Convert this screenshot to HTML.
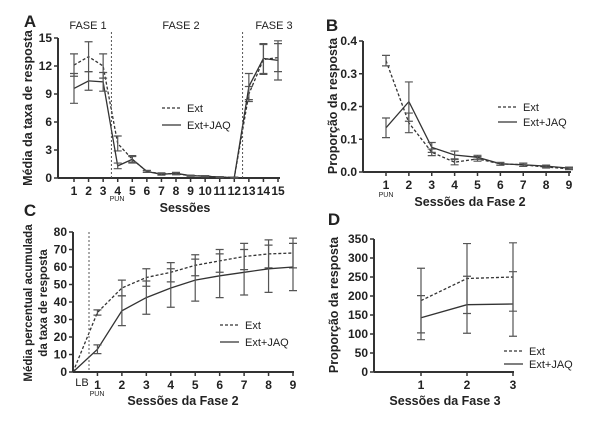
<!DOCTYPE html>
<html><head><meta charset="utf-8"><style>
body{margin:0;background:#fff;}
svg{display:block;font-family:"Liberation Sans",Arial,sans-serif;}
.tk{font-size:12px;font-weight:bold;fill:#222;}
.tt{font-size:12.5px;font-weight:bold;fill:#222;}
.lg{font-size:11px;fill:#222;}
</style></head><body>
<svg id="c" width="611" height="428" viewBox="0 0 611 428"></svg>
<script>
// Panel A data
const aCats=[1,2,3,4,5,6,7,8,9,10,11,12,13,14,15];
const aExt=[12.1,13.0,12.0,3.7,2.0,0.7,0.45,0.45,0.25,0.2,0.1,0.05,9.0,12.7,12.9];
const aExtErr=[1.2,1.6,1.3,0.8,0.4,0.1,0.1,0.1,0.05,0.05,0.05,0.05,0.8,1.6,1.5];
const aJaq=[9.6,10.4,10.3,1.3,2.0,0.7,0.4,0.5,0.25,0.2,0.1,0.05,9.8,12.8,12.6];
const aJaqErr=[1.6,1.0,1.0,0.3,0.3,0.1,0.1,0.1,0.05,0.05,0.05,0.05,1.4,1.6,2.1];
const aTicks=[0,3,6,9,12,15];
// Panel B data
const bCats=[1,2,3,4,5,6,7,8,9];
const bExt=[0.34,0.15,0.06,0.03,0.04,0.025,0.022,0.015,0.01];
const bExtErr=[0.016,0.03,0.01,0.008,0.007,0.004,0.005,0.003,0.003];
const bJaq=[0.135,0.215,0.075,0.052,0.045,0.025,0.022,0.018,0.012];
const bJaqErr=[0.03,0.06,0.015,0.012,0.006,0.004,0.005,0.003,0.003];
const bTicks=[0,0.1,0.2,0.3,0.4];
// Panel C data
const cCats=[0,1,2,3,4,5,6,7,8,9];
const cExt=[0,34,48,54,57,61,63.5,66,67.5,68];
const cExtErr=[0,1.5,4.5,5,5.5,6,6.5,7.5,8,8.5];
const cJaq=[0,13,35,42.5,48,52.5,55,57,59,60];
const cJaqErr=[0,2.5,8.5,9.5,11,12,12.5,13,13.5,13.5];
const cTicks=[0,10,20,30,40,50,60,70,80];
// Panel D data
const dCats=[1,2,3];
const dExt=[188,246,250];
const dExtErr=[85,92,90];
const dJaq=[143,177,179];
const dJaqErr=[58,75,85];
const dTicks=[0,50,100,150,200,250,300,350];

const svg=document.getElementById('c');
const NS='http://www.w3.org/2000/svg';
function mk(tag,at,parent){const e=document.createElementNS(NS,tag);for(const k in at)e.setAttribute(k,at[k]);(parent||svg).appendChild(e);return e;}
function txt(x,y,s,cls,anchor,parent){const t=mk('text',{x:x,y:y,class:cls,'text-anchor':anchor||'middle'},parent);t.textContent=s;return t;}

function panel(p){
  const g=mk('g',{});
  
  
  const X=v=>p.x0+(v-p.c0)*(p.x1-p.x0)/(p.c1-p.c0);
  const Y=v=>p.y0-(v-p.v0)*(p.y0-p.y1)/(p.v1-p.v0);
  const ya=mk('line',{x1:p.ax,y1:Y(p.v0),x2:p.ax,y2:Y(p.v1),stroke:'#333','stroke-width':2},g);
  
  const xa=mk('line',{x1:p.ax,y1:Y(p.v0),x2:p.xend,y2:Y(p.v0),stroke:'#333','stroke-width':2},g);
  
  p.ticks.forEach(t=>{
    mk('line',{x1:p.ax-4,y1:Y(t),x2:p.ax,y2:Y(t),stroke:'#333','stroke-width':1.5},g);
    const l=txt(p.ax-6,Y(t)+4,p.fmt(t),'tk','end',g);
    
  });
  p.cats.forEach((c,i)=>{
    if(p.skipLabel&&p.skipLabel(c))return;
    mk('line',{x1:X(c),y1:Y(p.v0),x2:X(c),y2:Y(p.v0)+4,stroke:'#333','stroke-width':1.5},g);
    const l=txt(X(c),Y(p.v0)+17,String(c),'tk','middle',g);
    
  });
  [[p.ext,p.extErr,'3,2','series-ext'],[p.jaq,p.jaqErr,null,'series-ext-jaq']].forEach(([vals,err,dash,nm])=>{
    const d=vals.map((v,i)=>(i?'L':'M')+X(p.cats[i]).toFixed(1)+','+Y(v).toFixed(1)).join(' ');
    const at={d:d,fill:'none',stroke:'#333','stroke-width':1.3};
    if(dash)at['stroke-dasharray']=dash;
    const path=mk('path',at,g);
    
    vals.forEach((v,i)=>{
      if(!err[i])return;
      const x=X(p.cats[i]),t=Y(v+err[i]),b=Y(v-err[i]);
      const eb=mk('path',{d:`M${x},${t}L${x},${b}M${x-4},${t}L${x+4},${t}M${x-4},${b}L${x+4},${b}`,stroke:'#555','stroke-width':1.2,fill:'none'},g);
      
    });
  });
  const lg=mk('g',{},g);
  
  mk('line',{x1:p.lx,y1:p.ly,x2:p.lx+19,y2:p.ly,stroke:'#333','stroke-width':1.3,'stroke-dasharray':'3,2'},lg);
  txt(p.lx+25,p.ly+4,'Ext','lg','start',lg);
  mk('line',{x1:p.lx,y1:p.ly+p.lgap,x2:p.lx+19,y2:p.ly+p.lgap,stroke:'#333','stroke-width':1.3},lg);
  txt(p.lx+25,p.ly+p.lgap+4,'Ext+JAQ','lg','start',lg);
  return {g,X,Y};
}
const f0=t=>String(t), f1=t=>t.toFixed(1);

let A=panel({name:'panel-a',cats:aCats,ext:aExt,extErr:aExtErr,jaq:aJaq,jaqErr:aJaqErr,ticks:aTicks,fmt:f0,
  x0:74,x1:278,c0:1,c1:15,y0:178,y1:38,v0:0,v1:15,ax:58,xend:280,lx:162,ly:108,lgap:17});
[3.5,12.5].forEach(v=>{const l=mk('line',{x1:A.X(v)+1,y1:32,x2:A.X(v)+1,y2:178,stroke:'#555','stroke-width':1,'stroke-dasharray':'2,2'},A.g);});
txt(88,29,'FASE 1','lg','middle',A.g);txt(181,29,'FASE 2','lg','middle',A.g);txt(274,29,'FASE 3','lg','middle',A.g);
txt(117,201,'PUN','lg','middle',A.g).setAttribute('style','font-size:7px');
txt(30,27,'A','tt','middle',A.g).setAttribute('style','font-size:17px');
txt(185,212,'Sessões','tt','middle',A.g);
let ta=txt(0,0,'Média da taxa de resposta','tt','middle',A.g);ta.setAttribute('transform','translate(32,108) rotate(-90)');

let B=panel({name:'panel-b',cats:bCats,ext:bExt,extErr:bExtErr,jaq:bJaq,jaqErr:bJaqErr,ticks:bTicks,fmt:f1,
  x0:386,x1:569,c0:1,c1:9,y0:172,y1:41,v0:0,v1:0.4,ax:363,xend:571,lx:498,ly:107,lgap:15});
txt(386,197,'PUN','lg','middle',B.g).setAttribute('style','font-size:7px');
txt(332,31,'B','tt','middle',B.g).setAttribute('style','font-size:17px');
txt(470,206,'Sessões da Fase 2','tt','middle',B.g);
let tb=txt(0,0,'Proporção da resposta','tt','middle',B.g);tb.setAttribute('transform','translate(337,106) rotate(-90)');

let C=panel({name:'panel-c',cats:cCats,ext:cExt,extErr:cExtErr,jaq:cJaq,jaqErr:cJaqErr,ticks:cTicks,fmt:f0,
  x0:73,x1:293,c0:0,c1:9,y0:372,y1:232,v0:0,v1:80,ax:73,xend:294,lx:220,ly:325,lgap:17,skipLabel:c=>c===0});
{const l=mk('line',{x1:89,y1:232,x2:89,y2:372,stroke:'#555','stroke-width':1,'stroke-dasharray':'2,2'},C.g);}
txt(82,386,'LB','lg','middle',C.g);
txt(97,396,'PUN','lg','middle',C.g).setAttribute('style','font-size:7px');
txt(30,216,'C','tt','middle',C.g).setAttribute('style','font-size:17px');
txt(183,405,'Sessões da Fase 2','tt','middle',C.g);
let tc1=txt(0,0,'Média percentual acumulada','tt','middle',C.g);tc1.setAttribute('transform','translate(32,303) rotate(-90)');tc1.setAttribute('style','font-size:11.5px');
let tc2=txt(0,0,'da taxa de resposta','tt','middle',C.g);tc2.setAttribute('transform','translate(47,303) rotate(-90)');tc2.setAttribute('style','font-size:11.5px');

let D=panel({name:'panel-d',cats:dCats,ext:dExt,extErr:dExtErr,jaq:dJaq,jaqErr:dJaqErr,ticks:dTicks,fmt:f0,
  x0:421,x1:513,c0:1,c1:3,y0:372,y1:239,v0:0,v1:350,ax:374,xend:514,lx:504,ly:351,lgap:13});
txt(334,225,'D','tt','middle',D.g).setAttribute('style','font-size:17px');
txt(445,405,'Sessões da Fase 3','tt','middle',D.g);
let td=txt(0,0,'Proporção da resposta','tt','middle',D.g);td.setAttribute('transform','translate(338,305) rotate(-90)');
</script>
</body></html>
